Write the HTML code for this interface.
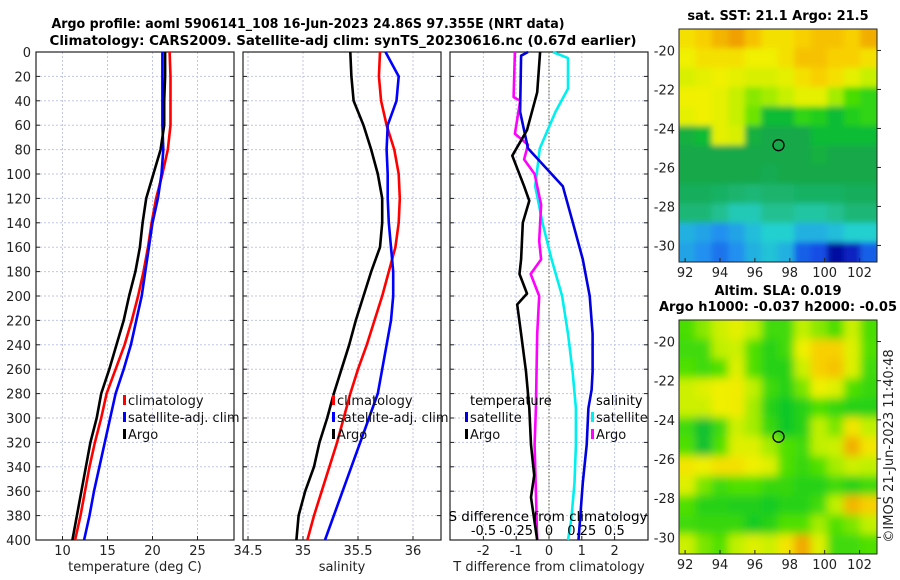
<!DOCTYPE html>
<html><head><meta charset="utf-8"><style>
body{margin:0;background:#fff}
svg{display:block;font-family:"DejaVu Sans","Liberation Sans",sans-serif}
</style></head><body>
<svg id="fig" width="900" height="580" viewBox="0 0 900 580">
<defs>
<filter id="blur6" filterUnits="userSpaceOnUse" x="600" y="300" width="300" height="280"><feGaussianBlur stdDeviation="4.5"/></filter>
<filter id="blur2" filterUnits="userSpaceOnUse" x="600" y="0" width="300" height="290"><feGaussianBlur stdDeviation="3"/></filter>
<clipPath id="clipTop"><rect x="679" y="29" width="198" height="233"/></clipPath>
<clipPath id="clipBot"><rect x="679" y="320" width="198" height="234"/></clipPath>
</defs>
<text x="308" y="28" text-anchor="middle" font-size="13" font-weight="bold" textLength="513" lengthAdjust="spacingAndGlyphs">Argo profile: aoml 5906141_108 16-Jun-2023 24.86S 97.355E (NRT data)</text>
<text x="343" y="45" text-anchor="middle" font-size="13.5" font-weight="bold" textLength="587" lengthAdjust="spacingAndGlyphs">Climatology: CARS2009. Satellite-adj clim: synTS_20230616.nc (0.67d earlier)</text>
<g id="g1"></g>
<g id="g2"></g>
<g id="g3"></g>
<g id="m1"></g>
<g id="m2"></g>
<text transform="translate(893,446) rotate(-90)" text-anchor="middle" font-size="13" fill="#222">©IMOS 21-Jun-2023 11:40:48</text>
</svg>
<script>
// ---- data ----
const depths = [0,20,40,60,80,100,120,140,160,180,200,220,240,260,280,300,320,340,360,380,400];
const tempClim = [21.9,22,22,22,21.7,21.1,20.4,19.9,19.5,19.0,18.4,17.7,16.9,15.9,14.9,14.3,13.6,13.0,12.5,12.0,11.4];
const tempSat  = [21.1,21.1,21.1,21.1,21.2,21.0,20.6,20.0,19.6,19.2,18.8,18.2,17.6,16.8,15.9,15.3,14.7,14.1,13.5,13.0,12.4];
const tempArgo = [21.4,21.4,21.3,21.3,20.9,20.1,19.3,18.9,18.6,18.1,17.4,16.8,16.0,15.2,14.3,13.8,13.1,12.6,12.1,11.6,11.1];
const salArgo  = [35.43,35.44,35.46,35.55,35.62,35.68,35.72,35.72,35.70,35.62,35.55,35.48,35.42,35.35,35.28,35.22,35.15,35.10,35.02,34.96,34.94];
const salClim  = [35.70,35.69,35.71,35.76,35.83,35.87,35.88,35.87,35.84,35.78,35.72,35.65,35.58,35.50,35.43,35.37,35.31,35.24,35.17,35.10,35.04];
const salSat   = [35.75,35.87,35.85,35.77,35.76,35.77,35.77,35.78,35.80,35.82,35.82,35.80,35.76,35.72,35.68,35.60,35.52,35.44,35.36,35.28,35.20];
const dSatS = [0,5,30,49,79,110,140,170,200,231,262,292,322,353,383,400];
const satSdiff = [0.03,0.145,0.145,0.05,-0.07,-0.105,-0.05,0.02,0.1,0.145,0.18,0.205,0.205,0.195,0.17,0.145];
const dSatT = [0,3,49,79,110,140,170,200,231,262,277,292,322,353,400];
const satTdiff = [-0.64,-0.85,-0.88,-0.64,0.42,0.73,1.03,1.24,1.33,1.33,1.3,1.2,1.15,1.03,0.9];
const dArgoT = [0,33,64,85,110,122,140,170,182,198,207,231,262,292,322,347,365,400];
const argoTdiff = [-0.27,-0.36,-0.67,-1.12,-0.76,-0.6,-0.8,-0.85,-0.9,-0.67,-0.97,-0.85,-0.7,-0.6,-0.55,-0.45,-0.55,-0.36];
const dArgoS = [0,37,40,67,76,88,100,125,155,170,182,200,231,292,322,400];
const argoSdiff = [-0.26,-0.27,-0.22,-0.26,-0.16,-0.19,-0.11,-0.06,-0.075,-0.06,-0.14,-0.075,-0.09,-0.1,-0.11,-0.09];
const depthTicks = [0,20,40,60,80,100,120,140,160,180,200,220,240,260,280,300,320,340,360,380,400];
const tTicks = [10,15,20,25];
const sTicks = [34.5,35,35.5,36];
const dTticks = [-2,-1,0,1,2];
const dSticks = [-0.5,-0.25,0,0.25,0.5];
const dStickLabels = ["-0.5","-0.25","0","0.25","0.5"];
const lonTicks = [92,94,96,98,100,102];
const latTicks = [-20,-22,-24,-26,-28,-30];
const sstGrid = [
[0.85,0.88,0.92,0.95,0.9,0.85,0.85,0.88,0.9,0.9,0.88,0.93],
[0.82,0.85,0.85,0.85,0.82,0.82,0.85,0.9,0.9,0.88,0.88,0.85],
[0.78,0.8,0.82,0.8,0.78,0.78,0.8,0.85,0.88,0.85,0.8,0.75],
[0.82,0.82,0.8,0.75,0.7,0.72,0.75,0.8,0.8,0.72,0.65,0.62],
[0.8,0.82,0.8,0.75,0.68,0.55,0.55,0.62,0.6,0.55,0.6,0.62],
[0.52,0.55,0.8,0.78,0.52,0.5,0.5,0.5,0.55,0.55,0.55,0.55],
[0.5,0.5,0.5,0.5,0.5,0.5,0.5,0.5,0.52,0.5,0.5,0.5],
[0.5,0.5,0.5,0.5,0.5,0.49,0.5,0.5,0.5,0.5,0.5,0.5],
[0.48,0.48,0.47,0.46,0.45,0.46,0.46,0.47,0.47,0.47,0.48,0.48],
[0.45,0.45,0.42,0.38,0.38,0.42,0.42,0.4,0.4,0.42,0.45,0.45],
[0.3,0.28,0.25,0.28,0.32,0.35,0.35,0.3,0.3,0.32,0.35,0.35],
[0.28,0.25,0.22,0.25,0.3,0.33,0.3,0.2,0.18,0.05,0.1,0.2]];
const slaGrid = [
[0.65,0.7,0.76,0.8,0.74,0.64,0.64,0.74,0.7,0.65,0.76,0.65],
[0.64,0.64,0.74,0.76,0.66,0.61,0.64,0.82,0.88,0.88,0.79,0.66],
[0.66,0.64,0.66,0.79,0.66,0.61,0.61,0.76,0.88,0.9,0.79,0.64],
[0.76,0.79,0.82,0.83,0.74,0.64,0.61,0.69,0.82,0.79,0.66,0.63],
[0.76,0.76,0.82,0.83,0.72,0.61,0.58,0.61,0.66,0.63,0.61,0.61],
[0.64,0.56,0.64,0.76,0.72,0.63,0.58,0.61,0.74,0.69,0.84,0.74],
[0.66,0.56,0.66,0.79,0.79,0.72,0.66,0.64,0.74,0.76,0.93,0.84],
[0.84,0.82,0.85,0.85,0.82,0.79,0.66,0.63,0.66,0.72,0.76,0.74],
[0.79,0.69,0.64,0.66,0.66,0.63,0.63,0.61,0.61,0.64,0.61,0.64],
[0.66,0.61,0.61,0.6,0.6,0.59,0.61,0.61,0.64,0.74,0.92,0.88],
[0.64,0.63,0.63,0.63,0.59,0.61,0.66,0.66,0.72,0.66,0.69,0.74],
[0.76,0.69,0.66,0.74,0.79,0.76,0.84,0.94,0.79,0.64,0.64,0.66]];
const argoLon = 97.355, argoLat = -24.86;

// ---- helpers ----
const NS="http://www.w3.org/2000/svg";
function mk(parent,tag,attrs,text){const e=document.createElementNS(NS,tag);for(const k in attrs)e.setAttribute(k,attrs[k]);if(text!==undefined)e.textContent=text;parent.appendChild(e);return e;}
const yTop=52,yBot=540;
const yD = d => yTop + d*(yBot-yTop)/400;
const xT = t => 62.5 + (t-10)*9;
const xS = s => 303 + (s-35)*110;
const xDT = v => 549 + v*32.8;
const xDS = v => 549 + v*131;
const GRID="#c0c6ea";

function panel(g,x0,x1,vticks,vx,vlab,showY,xlabel){
  mk(g,'rect',{x:x0,y:yTop,width:x1-x0,height:yBot-yTop,fill:'#fff'});
  depthTicks.forEach(d=>{const l=mk(g,'line',{x1:x0,x2:x1,y1:yD(d),y2:yD(d),stroke:GRID,'stroke-dasharray':'2,2','stroke-width':1});
    
    mk(g,'line',{x1:x0,x2:x0+4,y1:yD(d),y2:yD(d),stroke:'#222'});mk(g,'line',{x1:x1-4,x2:x1,y1:yD(d),y2:yD(d),stroke:'#222'});
    if(showY){const t=mk(g,'text',{x:x0-5,y:yD(d)+5,'text-anchor':'end','font-size':13,fill:'#222'},String(d));
      }
  });
  vticks.forEach((v,i)=>{const X=vx(v);
    const l=mk(g,'line',{x1:X,x2:X,y1:yTop,y2:yBot,stroke:GRID,'stroke-dasharray':'2,2'});
    
    mk(g,'line',{x1:X,x2:X,y1:yBot-4,y2:yBot,stroke:'#222'});
    if(vlab){const t=mk(g,'text',{x:X,y:yBot+15,'text-anchor':'middle','font-size':13,fill:'#222'},vlab[i]);
      }
  });
  const f=mk(g,'rect',{x:x0,y:yTop,width:x1-x0,height:yBot-yTop,fill:'none',stroke:'#222','stroke-width':1.2});
  
  const xl=mk(g,'text',{x:(x0+x1)/2,y:571,'text-anchor':'middle','font-size':13,fill:'#222'},xlabel);
  
}
function line(g,ds,vs,fx,color,name){
  const pts=ds.map((d,i)=>fx(vs[i]).toFixed(1)+','+yD(d).toFixed(1)).join(' ');
  const p=mk(g,'polyline',{points:pts,fill:'none',stroke:color,'stroke-width':2.6,'stroke-linejoin':'round'});
  
  
}
function legend(g,x,y,color,label,name){
  mk(g,'rect',{x:x-5,y:y-10,width:3,height:10,fill:color});
  const t=mk(g,'text',{x:x,y:y,'font-size':13,fill:'#111'},label);
  
  
}

// panel 1
const g1=document.getElementById('g1');
panel(g1,36,234,tTicks,xT,tTicks.map(String),true,'temperature (deg C)');
line(g1,depths,tempClim,xT,'#ff0000','temp-climatology-line');
line(g1,depths,tempSat,xT,'#0000ff','temp-satellite-line');
line(g1,depths,tempArgo,xT,'#000000','temp-argo-line');
legend(g1,128,405,'#ff0000','climatology','legend-climatology');
legend(g1,128,422,'#0000ff','satellite-adj. clim','legend-satellite');
legend(g1,128,439,'#000','Argo','legend-argo');

// panel 2
const g2=document.getElementById('g2');
panel(g2,243,441,sTicks,xS,sTicks.map(String),false,'salinity');
line(g2,depths,salClim,xS,'#ff0000','sal-climatology-line');
line(g2,depths,salSat,xS,'#0000ff','sal-satellite-line');
line(g2,depths,salArgo,xS,'#000000','sal-argo-line');
legend(g2,337,405,'#ff0000','climatology','legend-climatology');
legend(g2,337,422,'#0000ff','satellite-adj. clim','legend-satellite');
legend(g2,337,439,'#000','Argo','legend-argo');

// panel 3
const g3=document.getElementById('g3');
panel(g3,450,648,dTticks,xDT,dTticks.map(String),false,'T difference from climatology');
mk(g3,'line',{x1:549,x2:549,y1:yTop,y2:yBot,stroke:'#553',"stroke-dasharray":'1.5,2'});
line(g3,dSatS,satSdiff,xDS,'#00f0f0','sal-satellite-diff-line');
line(g3,dArgoS,argoSdiff,xDS,'#ff00ff','sal-argo-diff-line');
line(g3,dSatT,satTdiff,xDT,'#0000e0','temp-satellite-diff-line');
line(g3,dArgoT,argoTdiff,xDT,'#000000','temp-argo-diff-line');
let tl=mk(g3,'text',{x:470,y:405,'font-size':13},'temperature');

legend(g3,470,422,'#0000e0','satellite','legend-temp-satellite');
legend(g3,470,439,'#000','Argo','legend-temp-argo');
tl=mk(g3,'text',{x:596,y:405,'font-size':13},'salinity');

legend(g3,596,422,'#00f0f0','satellite','legend-sal-satellite');
legend(g3,596,439,'#ff00ff','Argo','legend-sal-argo');
tl=mk(g3,'text',{x:548,y:521,'text-anchor':'middle','font-size':13.5},'S difference from climatology');

dSticks.forEach((v,i)=>{const t=mk(g3,'text',{x:xDS(v),y:535,'text-anchor':'middle','font-size':13},dStickLabels[i]);
  });

// maps
const stops=[[0,[0,0,128]],[0.15,[16,48,224]],[0.25,[32,144,240]],[0.35,[32,208,208]],[0.42,[32,192,144]],[0.5,[20,168,74]],[0.58,[16,200,40]],[0.66,[80,224,0]],[0.74,[192,240,0]],[0.82,[240,240,0]],[0.88,[248,208,0]],[0.95,[240,160,0]],[1,[230,130,0]]];
function cmap(v){for(let i=1;i<stops.length;i++){if(v<=stops[i][0]){const a=stops[i-1],b=stops[i],t=(v-a[0])/(b[0]-a[0]);
  return 'rgb('+a[1].map((c,k)=>Math.round(c+(b[1][k]-c)*t)).join(',')+')';}}return 'rgb(230,130,0)';}
function map(g,grid,y0,y1,clip,blur,title1,title2){
  const x0=679,x1=877,lon0=91.65,lon1=103.0,lat0=-18.9,lat1=-30.85;
  const fx=l=>x0+(l-lon0)/(lon1-lon0)*(x1-x0), fy=la=>y0+(la-lat0)/(lat1-lat0)*(y1-y0);
  const rows=grid.length,cols=grid[0].length,cw=(x1-x0)/cols,ch=(y1-y0)/rows;
  const base=mk(g,'g',{'clip-path':'url(#'+clip+')'});
  const under=mk(base,'g',{});
  const bl=mk(base,'g',{filter:'url(#'+blur+')'});
  [under,bl].forEach(tg=>grid.forEach((r,i)=>r.forEach((v,j)=>{
    const ex = tg===bl ? 12 : 0;
    const c=mk(tg,'rect',{x:x0+j*cw-0.3-(j===0?ex:0),y:y0+i*ch-0.3-(i===0?ex:0),width:cw+0.6+((j===0||j===cols-1)?ex:0),height:ch+0.6+((i===0||i===rows-1)?ex:0),fill:cmap(v)});
    })));
  const f=mk(g,'rect',{x:x0,y:y0,width:x1-x0,height:y1-y0,fill:'none',stroke:'#222'});
  
  lonTicks.forEach(l=>{mk(g,'line',{x1:fx(l),x2:fx(l),y1:y1,y2:y1-4,stroke:'#222'});
    const t=mk(g,'text',{x:fx(l),y:y1+15,'text-anchor':'middle','font-size':13,fill:'#222'},String(l));
    });
  latTicks.forEach(l=>{mk(g,'line',{x1:x1,x2:x1+4,y1:fy(l),y2:fy(l),stroke:'#222'});
    const t=mk(g,'text',{x:x0-4,y:fy(l)+5,'text-anchor':'end','font-size':13,fill:'#222'},String(l));
    });
  const c=mk(g,'circle',{cx:fx(argoLon),cy:fy(argoLat),r:5.5,fill:'none',stroke:'#000','stroke-width':1.3});
  
  let t=mk(g,'text',{x:778,y:title2?y0-25:y0-9,'text-anchor':'middle','font-size':13,'font-weight':'bold'},title1);
  
  if(title2){t=mk(g,'text',{x:778,y:y0-9,'text-anchor':'middle','font-size':13,'font-weight':'bold'},title2);
    }
}
map(document.getElementById('m1'),sstGrid,29,262,'clipTop','blur2','sat. SST: 21.1 Argo: 21.5');
map(document.getElementById('m2'),slaGrid,320,554,'clipBot','blur6','Altim. SLA: 0.019','Argo h1000: -0.037 h2000: -0.05');
</script>
</body></html>
